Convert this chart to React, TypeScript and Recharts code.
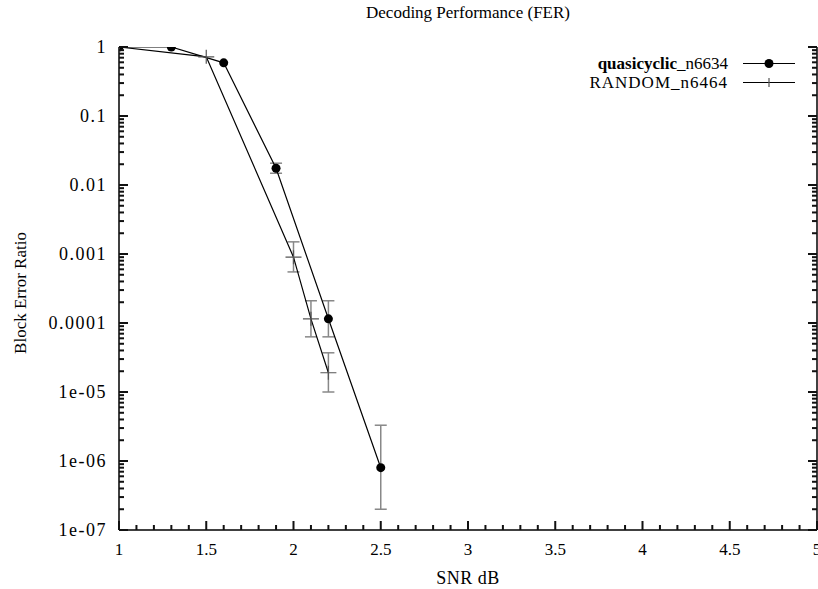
import React from 'react';
import { LineChart, Line, XAxis, YAxis, ErrorBar, Legend, Label } from 'recharts';

// SNR (dB) and frame error ratio, with error-bar bounds
const snrQuasi = [1, 1.3, 1.6, 1.9, 2.2, 2.5];
const ferQuasi = [1, 1, 0.59, 0.0175, 1.15e-4, 8e-7];
const ferQuasiLow = [null, null, null, 0.0148, 6.3e-5, 2e-7];
const ferQuasiHigh = [null, null, null, 0.0207, 2.1e-4, 3.3e-6];

const snrRandom = [1, 1.5, 2.0, 2.1, 2.2];
const ferRandom = [1, 0.72, 9e-4, 1.15e-4, 1.9e-5];
const ferRandomLow = [null, null, 5.5e-4, 6.3e-5, 1.0e-5];
const ferRandomHigh = [null, null, 1.5e-3, 2.1e-4, 3.7e-5];

const seriesNames = ['quasicyclic_n6634', 'RANDOM_n6464'];

const xMajorTicks = [1, 1.5, 2, 2.5, 3, 3.5, 4, 4.5, 5];
const yMajorTicks = [1e-7, 1e-6, 1e-5, 1e-4, 1e-3, 0.01, 0.1, 1];
const yTickLabels = ['1e-07', '1e-06', '1e-05', '0.0001', '0.001', '0.01', '0.1', '1'];

const xAllTicks = Array.from({ length: 41 }, (_, i) => +(1 + i * 0.1).toFixed(1));
const yAllTicks = [
  ...yMajorTicks,
  ...yMajorTicks.slice(0, -1).flatMap((d) => [2, 3, 4, 5, 6, 7, 8, 9].map((m) => m * d)),
];

const FONT = '"Liberation Serif", "DejaVu Serif", serif';
const TICK_COLOR = '#111';

const toRows = (xs: number[], ys: number[], lo: (number | null)[], hi: (number | null)[]) =>
  xs.map((snr, i) => ({
    snr,
    fer: ys[i],
    err: lo[i] != null && hi[i] != null ? [ys[i] - (lo[i] as number), (hi[i] as number) - ys[i]] : undefined,
  }));

const quasiData = toRows(snrQuasi, ferQuasi, ferQuasiLow, ferQuasiHigh);
const randomData = toRows(snrRandom, ferRandom, ferRandomLow, ferRandomHigh);

const isXMajor = (v: number) => xMajorTicks.some((t) => Math.abs(t - v) < 1e-6);
const yMajorIndex = (v: number) => yMajorTicks.findIndex((t) => Math.abs(t - v) / t < 1e-6);

// gnuplot-style ticks: drawn inward, minor ones shorter
const XTick = (props: any) => {
  const { x, y, payload } = props;
  const major = isXMajor(payload.value);
  return (
    <g>
      <rect x={x - 1} y={y - (major ? 9 : 5)} width={2} height={major ? 9 : 5} fill={TICK_COLOR} />
      {major && (
        <text x={x} y={y + 25} textAnchor="middle" fontSize={17} fontFamily={FONT} fill="#000">
          {payload.value}
        </text>
      )}
    </g>
  );
};

const YTickLeft = (props: any) => {
  const { x, y, payload } = props;
  const idx = yMajorIndex(payload.value);
  return (
    <g>
      <rect x={x} y={y - 1} width={idx >= 0 ? 9 : 5} height={2} fill={TICK_COLOR} />
      {idx >= 0 && (
        <text
          x={x - 12}
          y={y + 6}
          textAnchor="end"
          fontSize={18}
          letterSpacing={1.5}
          fontFamily={FONT}
          fill="#000"
        >
          {yTickLabels[idx]}
        </text>
      )}
    </g>
  );
};

const YTickRight = (props: any) => {
  const { x, y, payload } = props;
  const len = yMajorIndex(payload.value) >= 0 ? 9 : 5;
  return <rect x={x - len} y={y - 1} width={len} height={2} fill={TICK_COLOR} />;
};

const CircleDot = (props: any) => {
  const { cx, cy, index } = props;
  return <circle key={`c-${index}`} cx={cx} cy={cy} r={4.5} fill="#000" />;
};

const PlusDot = (props: any) => {
  const { cx, cy, index } = props;
  return (
    <path
      key={`p-${index}`}
      d={`M${cx - 8},${cy}H${cx + 8}M${cx},${cy - 7}V${cy + 7}`}
      stroke="#555"
      strokeWidth={1.2}
      fill="none"
    />
  );
};

const renderLegend = () => (
  <div style={{ fontFamily: FONT, fontSize: 17, color: '#000' }}>
    {seriesNames.map((name, i) => {
      const cut = name.indexOf('_n');
      return (
        <div key={name} style={{ display: 'flex', alignItems: 'center', height: 19 }}>
          <span style={{ width: 168, textAlign: 'right', whiteSpace: 'nowrap', letterSpacing: i === 0 ? 0 : 1 }}>
            {i === 0 ? (
              <>
                <b>{name.slice(0, cut)}</b>
                {name.slice(cut)}
              </>
            ) : (
              name
            )}
          </span>
          <svg width={67} height={19}>
            <line x1={15} y1={9.5} x2={67} y2={9.5} stroke="#000" strokeWidth={1.2} />
            {i === 0 ? (
              <circle cx={41} cy={9.5} r={4.5} fill="#000" />
            ) : (
              <line x1={41} y1={5} x2={41} y2={14} stroke="#555" strokeWidth={1.2} />
            )}
          </svg>
        </div>
      );
    })}
  </div>
);

export default function App() {
  return (
    <div style={{ position: 'absolute', left: 0, top: 0, width: 818, height: 589, background: '#fff' }}>
      <div
        style={{
          position: 'absolute',
          left: 119,
          top: 3,
          width: 698,
          textAlign: 'center',
          fontFamily: FONT,
          fontSize: 17,
          lineHeight: '20px',
        }}
      >
        Decoding Performance (FER)
      </div>
      <LineChart width={818} height={589} margin={{ top: 47, right: 0, bottom: 0, left: 0 }}>
        <XAxis
          dataKey="snr"
          type="number"
          domain={[1, 5]}
          ticks={xAllTicks}
          interval={0}
          tickSize={0}
          tickMargin={0}
          tick={<XTick />}
          height={59}
          axisLine={{ stroke: '#000', strokeWidth: 1.5 }}
          allowDataOverflow
        >
          <Label
            content={() => (
              <text x={468} y={584} textAnchor="middle" fontSize={18} letterSpacing={0.5} fontFamily={FONT} fill="#000">
                SNR dB
              </text>
            )}
          />
        </XAxis>
        <XAxis
          xAxisId="top"
          orientation="top"
          type="number"
          domain={[1, 5]}
          height={0}
          tick={false}
          tickLine={false}
          axisLine={{ stroke: '#000', strokeWidth: 2 }}
        />
        <YAxis
          type="number"
          scale="log"
          domain={[1e-7, 1]}
          ticks={yAllTicks}
          interval={0}
          tickSize={0}
          tickMargin={0}
          tick={<YTickLeft />}
          width={119}
          axisLine={{ stroke: '#000', strokeWidth: 1.5 }}
          allowDataOverflow
        >
          <Label
            content={() => (
              <text
                x={26}
                y={293}
                textAnchor="middle"
                fontSize={17}
                fontFamily={FONT}
                fill="#000"
                transform="rotate(-90 26 293)"
              >
                Block Error Ratio
              </text>
            )}
          />
        </YAxis>
        <YAxis
          yAxisId="right"
          orientation="right"
          type="number"
          scale="log"
          domain={[1e-7, 1]}
          ticks={yAllTicks}
          interval={0}
          tickSize={0}
          tickMargin={0}
          tick={<YTickRight />}
          width={1}
          axisLine={{ stroke: '#000', strokeWidth: 1.5 }}
          allowDataOverflow
        />
        <Legend
          layout="horizontal"
          verticalAlign="middle"
          align="center"
          wrapperStyle={{ top: 54, left: 560, width: 240, height: 40 }}
          content={renderLegend}
        />
        <Line
          data={quasiData}
          dataKey="fer"
          name={seriesNames[0]}
          stroke="#000"
          strokeWidth={1.2}
          dot={CircleDot}
          activeDot={false}
          isAnimationActive={false}
        >
          <ErrorBar dataKey="err" direction="y" width={6} stroke="#888" strokeWidth={1.5} />
        </Line>
        <Line
          data={randomData}
          dataKey="fer"
          name={seriesNames[1]}
          stroke="#000"
          strokeWidth={1.2}
          dot={PlusDot}
          activeDot={false}
          isAnimationActive={false}
        >
          <ErrorBar dataKey="err" direction="y" width={6} stroke="#888" strokeWidth={1.5} />
        </Line>
      </LineChart>
    </div>
  );
}
